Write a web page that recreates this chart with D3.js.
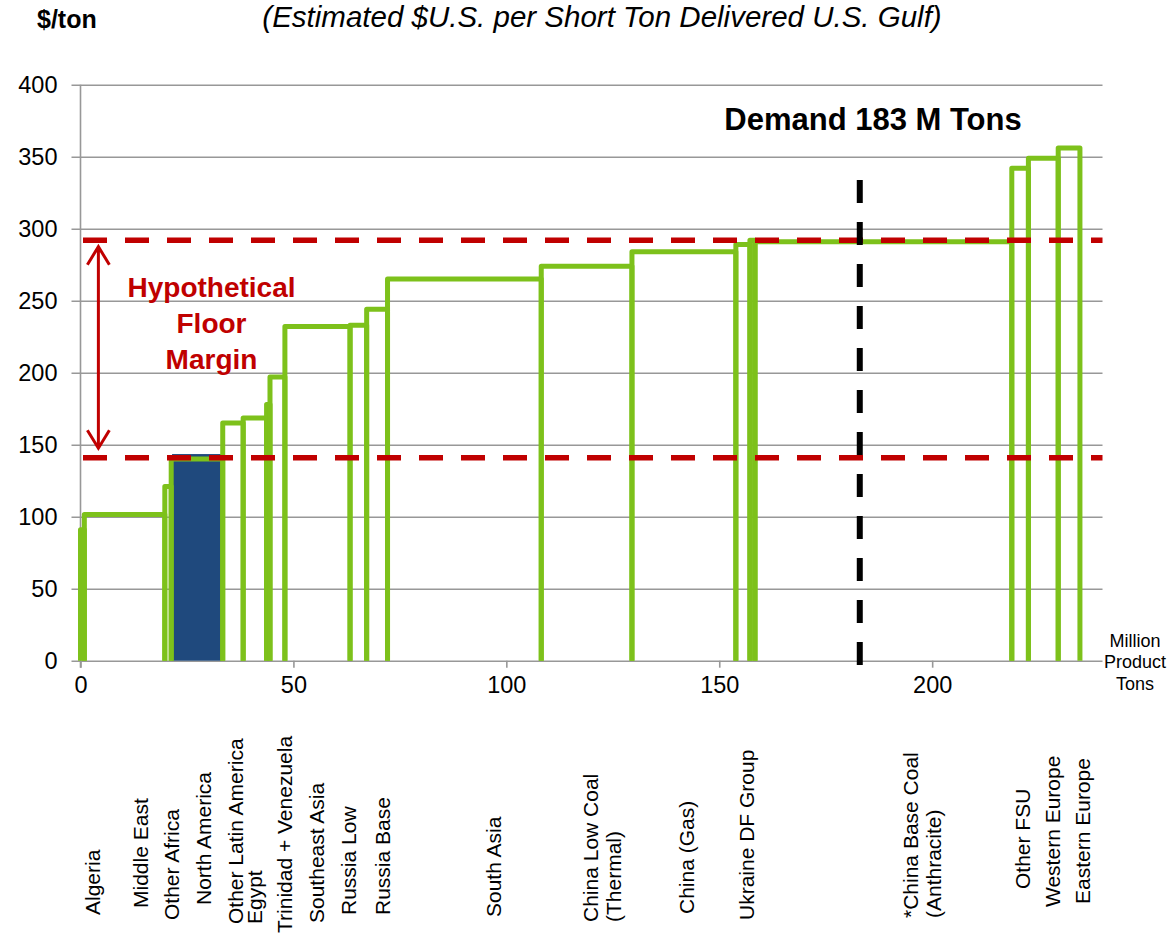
<!DOCTYPE html>
<html>
<head>
<meta charset="utf-8">
<script src="https://cdn.jsdelivr.net/npm/d3@7/dist/d3.min.js"></script>
<style>
  html, body { margin: 0; padding: 0; background: #fff; }
  svg { display: block; font-family: "Liberation Sans", Arial, sans-serif; }
</style>
</head>
<body>
<svg id="chart" width="1167" height="934"></svg>
<script>
// Supply segments in merit order: capacity (million product tons) and delivered cost ($/short ton)
const segmentNames = [
  "Algeria", "Middle East", "Other Africa", "North America", "Other Latin America",
  "Egypt", "Other", "Trinidad + Venezuela", "Southeast Asia", "Russia Low",
  "Russia Base", "South Asia", "China Low Coal (Thermal)", "China (Gas)", "Ukraine DF Group",
  "Ukraine Other", "China Base Coal (Anthracite)", "Other FSU", "Western Europe", "Eastern Europe"
];
const segmentCapacity = [0.9, 18.9, 1.5, 12.1, 4.8, 5.5, 0.8, 3.5, 15.3, 3.9, 4.9, 36.1, 21.3, 24.4, 3.3, 1.2, 60.3, 3.9, 7.0, 5.1];
const segmentCost     = [91, 101.5, 121, 140, 165, 168.5, 178, 197, 232, 233, 244, 265, 274, 284, 289, 292, 291, 342, 349, 356];

// Highlighted North American block
const highlightStart = 21.5;
const highlightEnd = 33.0;
const highlightCost = 143.5;

// Floor margin band and demand
const floorLow = 141;
const floorHigh = 292;
const demand = 183;

// Axis ticks
const yTicks = [0, 50, 100, 150, 200, 250, 300, 350, 400];
const xTicks = [0, 50, 100, 150, 200];

// Category labels along the capacity axis (lines, anchor position in M tons)
const categoryLines = [
  ["Algeria"], ["Middle East"], ["Other Africa"], ["North America"], ["Other Latin America"],
  ["Egypt"], ["Trinidad + Venezuela"], ["Southeast Asia"], ["Russia Low"], ["Russia Base"],
  ["South Asia"], ["China Low Coal", "(Thermal)"], ["China (Gas)"], ["Ukraine DF Group"],
  ["*China Base Coal", "(Anthracite)"], ["Other FSU"], ["Western Europe"], ["Eastern Europe"]
];
const categoryAt = [2.7, 14.0, 21.3, 28.8, 36.3, 40.8, 47.8, 55.3, 63.0, 70.8, 96.9, 122.4, 142.2, 156.5, 197.6, 221.1, 228.2, 235.2];
// label foot (screen y where each rotated label starts)
const categoryFoot = [915, 908, 920, 905, 924, 924, 933, 923, 915, 915, 917, 922, 914, 920, 918, 889, 907, 904];

const GREEN = "#7DC11B";
const RED = "#C00000";
const BLUE = "#1F497D";
const GRID = "#989898";

const svg = d3.select("#chart");

const x = d3.scaleLinear().domain([0, 240]).range([80.5, 1102.5]);
const y = d3.scaleLinear().domain([0, 400]).range([660.7, 84.7]);

// Horizontal gridlines with small outside ticks
svg.append("g")
  .attr("transform", `translate(${x(0)},0)`)
  .call(d3.axisLeft(y).tickValues(yTicks).tickSize(-(x(240) - x(0))).tickSizeOuter(0).tickPadding(0).tickFormat(""))
  .call(g => g.select(".domain").remove())
  .call(g => g.selectAll(".tick line").attr("stroke", GRID).attr("stroke-width", 1.6).attr("x1", -9));

// Y tick labels
svg.append("g").selectAll("text").data(yTicks).join("text")
  .attr("x", 57.5).attr("y", d => y(d)).attr("dy", "0.36em")
  .attr("text-anchor", "end").attr("font-size", 23.5).attr("fill", "#000")
  .text(d => d);

// Y axis line
svg.append("line")
  .attr("x1", x(0)).attr("x2", x(0)).attr("y1", y(400)).attr("y2", y(0) + 7)
  .attr("stroke", GRID).attr("stroke-width", 1.6);

// X axis ticks and labels
const xAxis = svg.append("g")
  .attr("transform", `translate(0,${y(0)})`)
  .call(d3.axisBottom(x).tickValues(xTicks).tickSize(7).tickSizeOuter(0).tickPadding(9).tickFormat(d3.format("d")));
xAxis.select(".domain").remove();
xAxis.selectAll(".tick line").attr("stroke", GRID).attr("stroke-width", 1.6);
xAxis.selectAll(".tick text").attr("font-size", 23.5).attr("fill", "#000")
  .attr("font-family", "'Liberation Sans', Arial, sans-serif");

// Highlight bar
svg.append("rect")
  .attr("x", x(highlightStart)).attr("y", y(highlightCost))
  .attr("width", x(highlightEnd) - x(highlightStart))
  .attr("height", y(0) - y(highlightCost))
  .attr("fill", BLUE);

// Supply step outlines: each segment rises from zero, runs across at its cost, drops back
const ends = d3.cumsum(segmentCapacity);
const segments = segmentCost.map((c, i) => ({
  name: segmentNames[i], x0: i === 0 ? 0 : ends[i - 1], x1: ends[i], cost: c
}));
svg.append("g").selectAll("path").data(segments).join("path")
  .attr("d", d => {
    const p = d3.path();
    p.moveTo(x(d.x0), y(0));
    p.lineTo(x(d.x0), y(d.cost));
    p.lineTo(x(d.x1), y(d.cost));
    p.lineTo(x(d.x1), y(0));
    return p.toString();
  })
  .attr("fill", "none").attr("stroke", GREEN).attr("stroke-width", 5)
  .attr("stroke-linejoin", "round");

// Floor margin dashed lines
svg.append("g").selectAll("line").data([floorHigh, floorLow]).join("line")
  .attr("x1", 83).attr("x2", x(240))
  .attr("y1", d => y(d)).attr("y2", d => y(d))
  .attr("stroke", RED).attr("stroke-width", 5.5).attr("stroke-dasharray", "24,18");

// Double-headed arrow between the floor lines
const ax = x(4.2);
const aTop = y(floorHigh) + 6.5;
const aBot = y(floorLow) - 9.5;
const arrow = d3.path();
arrow.moveTo(ax, aTop); arrow.lineTo(ax, aBot);
arrow.moveTo(ax - 11, aTop + 18); arrow.lineTo(ax, aTop); arrow.lineTo(ax + 11, aTop + 18);
arrow.moveTo(ax - 11, aBot - 18); arrow.lineTo(ax, aBot); arrow.lineTo(ax + 11, aBot - 18);
svg.append("path").attr("d", arrow.toString())
  .attr("fill", "none").attr("stroke", RED).attr("stroke-width", 3);

svg.append("text")
  .attr("text-anchor", "middle").attr("font-size", 28).attr("font-weight", "bold").attr("fill", RED)
  .selectAll("tspan").data(["Hypothetical", "Floor", "Margin"]).join("tspan")
  .attr("x", 211.5).attr("y", (d, i) => 296.5 + i * 36.2).text(d => d);

// Demand marker
svg.append("line")
  .attr("x1", x(demand)).attr("x2", x(demand)).attr("y1", 180).attr("y2", 666)
  .attr("stroke", "#000").attr("stroke-width", 6).attr("stroke-dasharray", "23,19");
svg.append("text")
  .attr("x", 873).attr("y", 130).attr("text-anchor", "middle")
  .attr("font-size", 31).attr("font-weight", "bold").attr("fill", "#000")
  .text(`Demand ${demand} M Tons`);

// Titles
svg.append("text").attr("x", 37).attr("y", 28).attr("font-size", 25).attr("font-weight", "bold")
  .text("$/ton");
svg.append("text").attr("x", 602).attr("y", 27).attr("text-anchor", "middle")
  .attr("font-size", 29.5).attr("font-style", "italic")
  .text("(Estimated $U.S. per Short Ton Delivered U.S. Gulf)");

// X axis unit label
svg.append("text").attr("text-anchor", "middle").attr("font-size", 18)
  .selectAll("tspan").data(["Million", "Product", "Tons"]).join("tspan")
  .attr("x", 1135).attr("y", (d, i) => 646.5 + i * 21.8).text(d => d);

// Rotated category labels
const cat = svg.append("g").selectAll("g").data(categoryLines).join("g")
  .attr("transform", (d, i) => `translate(${x(categoryAt[i])},${categoryFoot[i]}) rotate(-90)`);
cat.each(function(lines) {
  const g = d3.select(this);
  const n = lines.length;
  lines.forEach((t, j) => {
    g.append("text")
      .attr("x", 0).attr("y", (j - (n - 1) / 2) * 23)
      .attr("dy", "0.36em")
      .attr("font-size", 21).attr("fill", "#000")
      .text(t);
  });
});
</script>
</body>
</html>
